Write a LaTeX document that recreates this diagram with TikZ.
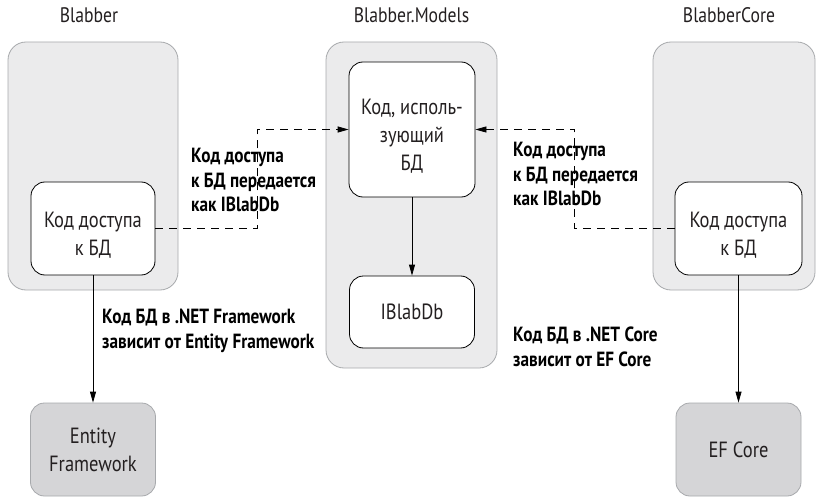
\documentclass[tikz,border=0pt]{standalone}
\usepackage{fontspec}
\setmainfont{PT Sans}[FakeStretch=0.84]
\usetikzlibrary{arrows.meta}

\definecolor{pkgfill}{HTML}{EBEBEC}
\definecolor{pkgline}{HTML}{A7A9AC}
\definecolor{libfill}{HTML}{D5D5D7}
\definecolor{txtgray}{HTML}{231F20}

% pushes the first line of a box down a little
\newcommand{\lowstart}{\rule{0pt}{29pt}}

\tikzset{
    package/.style={draw=pkgline, fill=pkgfill, rounded corners=18pt, line width=0.8pt, inner sep=0pt},
    codebox/.style={draw=black, fill=white, rounded corners=14pt, line width=0.8pt, inner sep=0pt,
                    align=center, text=txtgray, font=\fontsize{22}{28}\selectfont},
    libbox/.style={draw=pkgline, fill=libfill, rounded corners=14pt, line width=0.8pt, inner sep=0pt,
                   align=center, text=txtgray, font=\fontsize{22}{28}\selectfont},
    title/.style={anchor=base, text=txtgray, font=\fontsize{21}{24}\selectfont},
    note/.style={anchor=west, align=left, inner sep=0pt, font=\bfseries\fontsize{20.5}{24.5}\selectfont},
    flow/.style={line width=0.8pt, -{Triangle[length=11pt,width=6pt]}},
    passflow/.style={flow, dash pattern=on 8pt off 6pt}
}

\begin{document}
\begin{tikzpicture}[x=1pt, y=-1pt]
    \useasboundingbox (0, 0) rectangle (816, 497);

    % projects
    \node[package, minimum width=170pt, minimum height=248pt] (blabber) at (93, 166) {};
    \node[package, minimum width=171pt, minimum height=326pt] (models) at (411.5, 205) {};
    \node[package, minimum width=162pt, minimum height=248pt] (core) at (734, 166) {};

    \node[title] (blabbertitle) at (89, 23) {Blabber};
    \node[title] (modelstitle) at (411.5, 23) {Blabber.Models};
    \node[title] (coretitle) at (729, 23) {BlabberCore};

    % code inside projects
    \node[codebox, minimum width=124pt, minimum height=93pt] (blabberdb) at (93, 228.5) {\lowstart Код доступа\\к БД};
    \node[codebox, minimum width=126pt, minimum height=135pt] (usercode) at (412, 129.5) {\lowstart Код, исполь-\\зующий\\БД};
    \node[codebox, minimum width=125pt, minimum height=72pt] (iblabdb) at (412, 312) {IBlabDb};
    \node[codebox, minimum width=127pt, minimum height=93pt] (coredb) at (738.5, 228.5) {\lowstart Код доступа\\к БД};

    % libraries
    \node[libbox, minimum width=125pt, minimum height=93pt] (ef) at (93, 449.5) {Entity\\Framework};
    \node[libbox, minimum width=125pt, minimum height=93pt] (efcore) at (738.5, 449.5) {EF Core};

    % connectors
    \draw[passflow] (blabberdb.east) -- ++(102, 0) |- (usercode.west);
    \draw[passflow] (coredb.west) -- ++(-100, 0) |- (usercode.east);
    \draw[flow] (usercode) -- (iblabdb);
    \draw[flow] (blabberdb) -- (ef);
    \draw[flow] (coredb) -- (efcore);

    % notes
    \node[note] (leftpass) at (191, 180) {Код доступа\\к БД передается\\как IBlabDb};
    \node[note] (rightpass) at (513, 174) {Код доступа\\к БД передается\\как IBlabDb};
    \node[note] (efnote) at (102, 331) {Код БД в .NET Framework\\зависит от Entity Framework};
    \node[note] (corenote) at (513, 347) {Код БД в .NET Core\\зависит от EF Core};
\end{tikzpicture}
\end{document}
